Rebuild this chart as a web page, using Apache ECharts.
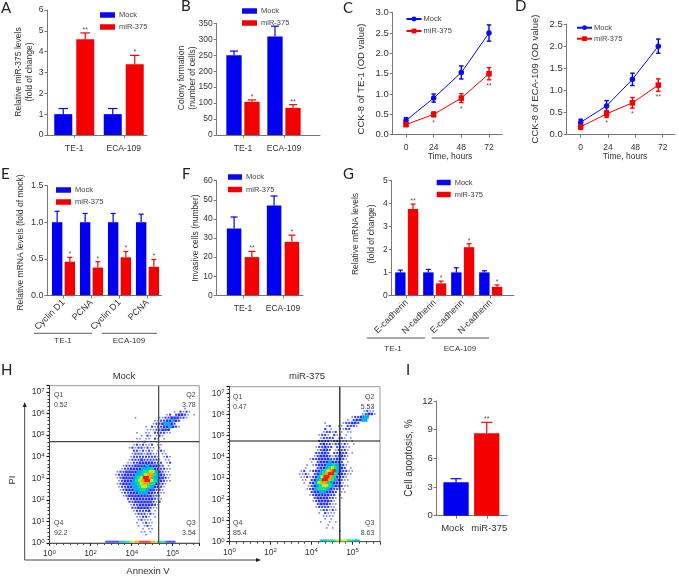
<!DOCTYPE html>
<html><head><meta charset="utf-8">
<style>html,body{margin:0;padding:0;background:#fff}#c{width:678px;height:576px}</style>
<script src="https://cdn.jsdelivr.net/npm/echarts@6/dist/echarts.min.js"></script>
</head><body><div id="c"></div>
<script>
// ---------- DATA ----------
const twoLines = ['TE-1','ECA-109'];
const aMock=[1,1], aMockTop=[1.27,1.27], aMir=[4.6,3.4], aMirTop=[4.9,3.82], aStars=['**','*'];
const bMock=[250,309], bMockTop=[263,341], bMir=[104,85], bMirTop=[110,95], bStars=['*','**'];
const cHours=['0','24','48','72'];
const cMock=[0.35,0.9,1.53,2.5], cMockErr=[0.07,0.1,0.16,0.2];
const cMir=[0.25,0.5,0.9,1.5], cMirErr=[0.05,0.06,0.11,0.15], cStars=['','*','*','**'];
const dMock=[0.28,0.65,1.25,2.0], dMockErr=[0.07,0.12,0.14,0.16];
const dMir=[0.18,0.47,0.72,1.12], dMirErr=[0.06,0.08,0.12,0.14], dStars=['','*','*','**'];
const eCats=['Cyclin D1','PCNA','Cyclin D1','PCNA'];
const eMock=[1,1,1,1], eMockTop=[1.15,1.12,1.12,1.11], eMir=[0.46,0.38,0.52,0.39], eMirTop=[0.52,0.46,0.6,0.49], eStars=['*','*','*','*'];
const fMock=[35,47], fMockTop=[41,52], fMir=[20,28], fMirTop=[23,31.5], fStars=['**','*'];
const gCats=['E-cadherin','N-cadherin','E-cadherin','N-cadherin'];
const gMock=[1,1,1,1], gMockTop=[1.1,1.13,1.2,1.07], gMir=[3.77,0.52,2.1,0.37], gMirTop=[3.98,0.62,2.25,0.45], gStars=['**','*','*','*'];
const iCats=['Mock','miR-375'], iValues=[3.5,8.62], iTops=[3.87,9.77], iStars=['','**'];
const flowXExp=[0,2,4,5], flowYExp=[0,1,2,3,4,5,6,7];
// Flow cytometry density: one row per 3px, level 0-8 per 3px column
const mockDensity=[
"",
"........................1",
".....................1.2121",
"..................12.23321.1",
"........1.......1122333221",
"..............112233432",
"..............12234432",
"...........1.2122334321",
"............11122333",
"........1..11.222211",
"..........1.21.121",
"........11.11.21.1",
".......1.1.2.1.1",
".......1212112.11",
"......121221211.1",
".......2212121.121",
".......122212211.11",
"......1222222221.121",
"......12223222221.11",
".....112233333222.12",
"....12223333433322.1",
"...12233334445332211",
"..122333344556643211",
".1223333445677543211",
"..123333456887543321",
"..123334567886543211",
"..12333445677553221",
"..1223344566543321",
"...123334455433221",
"...122333444332211",
"....1233333333221",
".....223333333211",
"......22333333212",
"......1223333321",
".......223333211",
".......122223.1",
"........1222121",
"........11221.1",
".........12111",
"........1.1211",
".........1.121",
"..........1.11",
"..........11.1",
"...........1"];
const mirDensity=[
"",
"..........................1",
"........................1211",
".......................12331",
"....................122344",
"..................1.23344",
"...........1.....122332",
"...........12..11.2221",
"...........2.1..1122",
"..........12212.1.11",
".........1221.211.1",
".........12222.121.1",
".........2222122111.1",
".........2322122121.1",
"........122322.22211",
"........12332.12221",
"........22332.22322.1",
".......123332122321",
"......1223333223321",
"......1.233343332.1",
".....1.123334454321",
"....1...2334565432.1",
"...12.123345678432211",
"..1121.2345788533211",
"...1121234688753221",
"...11.2345887543211",
"....1.234677543321",
".....12345665433211",
".....1234555432211",
"......233443332.11",
"......123333322.1",
".......23333221.1",
".......12333321",
"........2333211",
"........1222211",
".........122121",
".........1.2111",
"..........1111",
"...........1.1",
".........1..1.1",
"............1",
"...........1.1.",
"................1"];
const mockStrip="3333334445566778888877655543333";
const mirStrip="..44445555566666665555444";
const mockGate={x:2.66, y:4.69}, mirGate={x:2.69, y:4.75};
const mockQuad=['Q1','0.52','Q2','3.78','Q4','92.2','Q3','3.54'];
const mirQuad=['Q1','0.47','Q2','5.53','Q4','85.4','Q3','8.63'];

// ---------- STYLE / LAYOUT ----------
const FONT='"Liberation Sans",Arial,sans-serif', LETTER='Lato,"Open Sans",sans-serif';
const BLUE='#0000f0', RED='#f40000', TXT='#333', AXIS='#777';
const grid=[],xAxis=[],yAxis=[],series=[],legend=[],graphic=[];
const hide={show:false};

function addGrid(l,r,t,b,extra){grid.push(Object.assign({left:l,width:r-l,top:t,height:b-t,containLabel:false},extra||{}));return grid.length-1;}
function frame(p){
  const g=addGrid(p.x0,p.x1,p.top,p.bot);
  xAxis.push({gridIndex:g,type:'value',min:0,max:1,axisLine:{show:true,onZero:false,lineStyle:{color:AXIS,width:1}},axisTick:hide,axisLabel:hide,splitLine:hide});
  yAxis.push({gridIndex:g,type:'value',min:p.min,max:p.max,interval:p.interval,
    axisLine:{show:true,lineStyle:{color:AXIS,width:1}},axisTick:{show:true,length:3,lineStyle:{color:AXIS}},splitLine:hide,
    axisLabel:{fontFamily:FONT,fontSize:p.yFont||8.5,color:TXT,margin:4,formatter:p.dec?(v=>v.toFixed(p.dec)):undefined}});
}
function dataGrid(p,cats,l,r,boundary,showX){
  const g=addGrid(l,r,p.top,p.bot);
  xAxis.push({gridIndex:g,type:'category',data:cats,boundaryGap:boundary,axisLine:hide,
    axisTick:showX?{show:true,length:3,alignWithLabel:true,lineStyle:{color:AXIS}}:hide,
    axisLabel:showX?Object.assign({show:true,interval:0,hideOverlap:false,fontFamily:FONT,fontSize:p.xFont||8.5,color:TXT,margin:p.xMargin||8,rotate:p.rotate||0},p.rotate?{verticalAlign:'middle'}:{}):hide,splitLine:hide});
  yAxis.push({gridIndex:g,type:'value',min:p.min,max:p.max,interval:p.interval,show:false});
  return g;
}
function errSeries(g,hi,lo,color,off,capW,stars,below,lw){
  series.push({type:'custom',coordinateSystem:'cartesian2d',xAxisIndex:g,yAxisIndex:g,silent:true,z:3,clip:false,
    data:hi.map((h,i)=>[i,h,lo[i]]),
    renderItem:(params,api)=>{
      const i=api.value(0),a=api.coord([i,api.value(1)]),b=api.coord([i,api.value(2)]);
      const x=a[0]+off,s={stroke:Array.isArray(color)?color[i]:color,lineWidth:lw||1.2};
      const kids=[{type:'line',shape:{x1:x,y1:a[1],x2:x,y2:b[1]},style:s},
        {type:'line',shape:{x1:x-capW/2,y1:a[1],x2:x+capW/2,y2:a[1]},style:s}];
      if(below) kids.push({type:'line',shape:{x1:x-capW/2,y1:b[1],x2:x+capW/2,y2:b[1]},style:s});
      if(stars&&stars[i]) kids.push({type:'text',style:{x:x,y:below?b[1]+6:a[1]-3,text:stars[i],fill:'#555',fontSize:7,fontFamily:FONT,align:'center',verticalAlign:'middle'}});
      return {type:'group',children:kids};
    }});
}
function barPanel(p){
  frame(p);
  const g=dataGrid(p,p.cats,p.d0,p.d1,true,true);
  const mk=(name,vals,c)=>({type:'bar',name,data:vals,xAxisIndex:g,yAxisIndex:g,barWidth:p.barW,barGap:(p.gap/p.barW*100)+'%',itemStyle:{color:c},silent:true});
  series.push(mk('Mock',p.mock,BLUE),mk('miR-375',p.mir,RED));
  const off=(p.barW+p.gap)/2;
  errSeries(g,p.mockTop,p.mock,BLUE,-off,p.capM||p.barW*0.55,null,false,p.lw);
  errSeries(g,p.mirTop,p.mir,RED,off,p.capM||p.barW*0.55,p.stars,false,p.lw);
}
function linePanel(p){
  frame(p);
  const tg=dataGrid(p,p.cats,p.t0,p.t1,false,true);
  const g=dataGrid(p,p.cats,p.d0,p.d1,false,false);
  const mk=(name,vals,c,sym)=>({type:'line',name,data:vals,xAxisIndex:g,yAxisIndex:g,symbol:sym,symbolSize:5.5,showSymbol:true,lineStyle:{color:c,width:1},itemStyle:{color:c},silent:true,z:4});
  series.unshift(mk('Mock',p.mock,'#0a0af0','circle'),mk('miR-375',p.mir,'#f00000','rect'));
  const hi=(v,e)=>v.map((x,i)=>+(x+e[i]).toFixed(3)), lo=(v,e)=>v.map((x,i)=>+(x-e[i]).toFixed(3));
  errSeries(g,hi(p.mock,p.mockErr),lo(p.mock,p.mockErr),BLUE,0,4.5,null,true,1.4);
  errSeries(g,hi(p.mir,p.mirErr),lo(p.mir,p.mirErr),RED,0,4.5,p.stars,true,1.4);
}
function barLegend(l,t,gap,w){
  legend.push({left:l,top:t,orient:'vertical',padding:0,itemWidth:w||15,itemHeight:5.5,itemGap:gap,selectedMode:false,
    data:[{name:'Mock',icon:'rect'},{name:'miR-375',icon:'rect'}],textStyle:{fontFamily:FONT,fontSize:7.5,color:'#444',padding:[0,0,0,-1]}});
}
function lineLegend(l,t,gap){
  legend.push({left:l,top:t,orient:'vertical',padding:0,itemWidth:15,itemHeight:6,itemGap:gap,selectedMode:false,
    data:['Mock','miR-375'],textStyle:{fontFamily:FONT,fontSize:7.5,color:'#444',padding:[0,0,0,-3]}});
}
function txt(x,y,text,o){o=o||{};graphic.push({type:'text',x:x,y:y,rotation:o.rot?Math.PI/2:0,silent:true,style:{x:0,y:0,text,fontFamily:o.family||FONT,fontSize:o.size||8.5,fill:o.color||TXT,align:o.align||'center',verticalAlign:'middle',lineHeight:o.lh}});}
function seg(x1,y1,x2,y2,c,w){graphic.push({type:'line',silent:true,shape:{x1,y1,x2,y2},style:{stroke:c||'#333',lineWidth:w||1}});}

// ---------- PANELS ----------
barPanel({x0:47.5,x1:147,top:10,bot:135,min:0,max:6,interval:1,cats:twoLines,mock:aMock,mockTop:aMockTop,mir:aMir,mirTop:aMirTop,stars:aStars,d0:49.5,d1:148.5,barW:18,gap:4,capM:9.5,xMargin:9});
barLegend(100,11,4);
barPanel({x0:216.7,x1:320,top:23.3,bot:135,min:0,max:350,interval:50,cats:twoLines,mock:bMock,mockTop:bMockTop,mir:bMir,mirTop:bMirTop,stars:bStars,d0:222.5,d1:304.5,barW:15.3,gap:2.7,capM:8,xMargin:9});
barLegend(242,7,4);
linePanel({x0:392.7,x1:502,top:12.7,bot:134.7,min:0,max:3,interval:0.5,dec:1,yFont:9.5,cats:cHours,mock:cMock,mockErr:cMockErr,mir:cMir,mirErr:cMirErr,stars:cStars,t0:406,t1:489,d0:406,d1:489,xMargin:8});
lineLegend(405.5,15,4);
linePanel({x0:566.7,x1:675,top:24,bot:134.7,min:0,max:2.5,interval:0.5,dec:1,yFont:9.5,cats:cHours,mock:dMock,mockErr:dMockErr,mir:dMir,mirErr:dMirErr,stars:dStars,t0:580.7,t1:662.7,d0:580.7,d1:658.3,xMargin:8});
lineLegend(576,23.7,3);
barPanel({x0:47.5,x1:161.5,top:185.7,bot:295.3,min:0,max:1.5,interval:0.5,dec:1,yFont:9,cats:eCats,mock:eMock,mockTop:eMockTop,mir:eMir,mirTop:eMirTop,stars:eStars,d0:49.5,d1:161.5,barW:10.4,gap:2.3,capM:5,rotate:45,xMargin:6,xFont:9});
barLegend(56,186,4);
barPanel({x0:216.7,x1:303,top:180.7,bot:295.3,min:0,max:60,interval:10,cats:twoLines,mock:fMock,mockTop:fMockTop,mir:fMir,mirTop:fMirTop,stars:fStars,d0:223,d1:303,barW:14.5,gap:3.3,capM:7,xMargin:9});
barLegend(228,173,4.5,14);
barPanel({x0:391.7,x1:514,top:180.7,bot:295.3,min:0,max:5,interval:1,cats:gCats,mock:gMock,mockTop:gMockTop,mir:gMir,mirTop:gMirTop,stars:gStars,d0:392.7,d1:504.7,barW:10.4,gap:2.3,capM:5,rotate:45,xMargin:6,xFont:9});
barLegend(436.7,178.5,4,14);

// I
frame({x0:436.7,x1:507.3,top:401,bot:515.7,min:0,max:12,interval:3,yFont:9.5});
(function(){
  const p={top:401,bot:515.7,min:0,max:12,interval:3,xFont:9.5,xMargin:8};
  const pads=[[0,7,0,0],[0,0,0,5]];
  const g=dataGrid(p,iCats.map((c,i)=>({value:c,textStyle:{padding:pads[i]}})),440.7,502.1,true,true);
  const cols=[BLUE,RED];
  series.push({type:'bar',name:'Cell apoptosis',data:iValues.map((v,i)=>({value:v,itemStyle:{color:cols[i]}})),xAxisIndex:g,yAxisIndex:g,barWidth:25.3,silent:true});
  errSeries(g,iTops,iValues,cols,0,11,iStars,false,1.2);
})();

// Flow plots
function flowPanel(o){
  const g=addGrid(o.x0,o.x1,o.top,o.bot,{show:true,borderColor:'#999',borderWidth:1,backgroundColor:'#fff'});
  const rich={s:{fontSize:6,verticalAlign:'top',padding:[0,0,3,0],fontFamily:FONT,color:TXT}};
  xAxis.push({gridIndex:g,type:'value',min:0,max:o.xMax,interval:1,axisLine:{show:true,onZero:false,lineStyle:{color:'#555'}},
    axisTick:{show:true,length:3,lineStyle:{color:'#222',width:1}},minorTick:{show:true,splitNumber:6,length:2,lineStyle:{color:'#444'}},splitLine:hide,minorSplitLine:hide,
    axisLabel:{fontFamily:FONT,fontSize:8.5,color:TXT,margin:6,formatter:v=>Number.isInteger(v)&&v<flowXExp.length?'10{s|'+flowXExp[v]+'}':'',rich}});
  yAxis.push({gridIndex:g,type:'value',min:0,max:o.yMax,interval:1,axisLine:{show:true,onZero:false,lineStyle:{color:'#444'}},
    axisTick:{show:true,length:3,lineStyle:{color:'#111',width:1.2}},minorTick:{show:true,splitNumber:6,length:2,lineStyle:{color:'#333'}},splitLine:hide,minorSplitLine:hide,
    axisLabel:{fontFamily:FONT,fontSize:8.5,color:TXT,margin:5,formatter:v=>Number.isInteger(v)&&v<flowYExp.length?'10{s|'+flowYExp[v]+'}':'',rich}});
  const pts=[];
  o.rows.forEach((r,j)=>{for(let i=0;i<r.length;i++){const c=r[i];if(c!=='.')pts.push([o.ox+(i+(j%2)*0.5)*o.dx,o.oy-j*o.dy,+c]);}});
  const cols=['','#7480f0','#3844ec','#2630f0','#00aef0','#0ee08c','#b8f020','#ffa000','#f01c10'];
  const sizes=[0,1.6,2.1,2.6,3.5,3.6,3.6,3.6,3.6];
  series.push({type:'scatter',data:pts,xAxisIndex:g,yAxisIndex:g,symbol:'rect',silent:true,z:2,large:false,
    symbolSize:v=>sizes[v[2]],itemStyle:{color:p=>cols[p.value[2]],opacity:1},animation:false});
  const strip=[];
  for(let i=0;i<o.strip.length;i++){const c=o.strip[i];if(c!=='.')strip.push([o.sx+i*o.sdx,0.06,+c]);}
  series.push({type:'scatter',data:strip,xAxisIndex:g,yAxisIndex:g,symbol:'rect',silent:true,z:2,clip:false,
    symbolSize:()=>[2.6,2],itemStyle:{color:p=>cols[p.value[2]]}});
  const gate=(d)=>({type:'line',data:d,xAxisIndex:g,yAxisIndex:g,symbol:'none',silent:true,z:5,lineStyle:{color:o.gateColor,width:1.2}});
  series.push(gate([[o.gate.x,0],[o.gate.x,o.yMax]]),gate([[0,o.gate.y],[o.xMax,o.gate.y]]));
}
flowPanel({x0:49.5,x1:199.3,top:385.7,bot:543,xMax:3.65,yMax:7.28,rows:mockDensity,ox:1.51,oy:6.356,dx:0.0732,dy:0.139,strip:mockStrip,sx:1.39,sdx:0.055,gate:mockGate,gateColor:'#444'});
flowPanel({x0:229.5,x1:380,top:386.7,bot:541.7,xMax:3.67,yMax:7.31,rows:mirDensity,ox:1.529,oy:6.45,dx:0.0732,dy:0.1415,strip:mirStrip,sx:2.15,sdx:0.0415,gate:mirGate,gateColor:'#111'});
function quad(q,xl,xr,y1,y2,y3,y4){
  const o={size:7,color:'#444'};
  txt(xl,y1,q[0],{...o,align:'left'});txt(xl,y2,q[1],{...o,align:'left'});
  txt(xr,y1,q[2],{...o,align:'right'});txt(xr,y2,q[3],{...o,align:'right'});
  txt(xl,y3,q[4],{...o,align:'left'});txt(xl,y4,q[5],{...o,align:'left'});
  txt(xr,y3,q[6],{...o,align:'right'});txt(xr,y4,q[7],{...o,align:'right'});
}
quad(mockQuad,54,195.7,395,405,523,532.7);
quad(mirQuad,233,374.3,396.7,406.7,523,532.7);

// Text
[['A',1,8],['B',181,6],['C',343,8],['D',515,6],['E',1,174],['F',182,174],['G',343,174],['H',1,370],['I',406,370]].forEach(a=>txt(a[1],a[2],a[0],{family:LETTER,size:15,color:'#222',align:'left'}));
const R={rot:true};
txt(24.5,72,'Relative miR-375 levels\n(fold of change)',{...R,lh:11});
txt(187,78,'Colony formation\n(number of cells)',{...R,lh:10.5,size:8.5});
txt(361.7,79,'CCK-8 of TE-1 (OD value)',{...R,size:9.5});
txt(535.7,79,'CCK-8 of ECA-109 (OD value)',{...R,size:9.5});
txt(450,157,'Time, hours',{size:8.5});
txt(625,157,'Time, hours',{size:8.5});
txt(20.7,242.5,'Relative mRNA levels (fold of mock)',{...R,size:8.5});
txt(195.7,238,'Invasive cells (number)',{...R,size:8.5});
txt(363.7,234,'Relative mRNA levels\n(fold of change)',{...R,lh:16});
txt(409,458,'Cell apoptosis, %',{...R,size:10});
txt(124,376.7,'Mock',{size:9.5}); txt(307,376.7,'miR-375',{size:9.5});
txt(12,480,'PI',{...R,size:9.5}); txt(148,571.7,'Annexin V',{size:9.5});
seg(34,333.3,92,333.3,'#333',0.8); seg(101.7,333.3,157,333.3,'#333',0.8);
txt(63,341,'TE-1',{size:8}); txt(129,341,'ECA-109',{size:8});
seg(366.7,338,425,338,'#555',1); seg(431.7,338,489,338,'#555',1);
txt(393,348.5,'TE-1',{size:8}); txt(460,348.5,'ECA-109',{size:8});
seg(24.7,560,24.7,406,'#444',1); seg(24.7,560,257,560,'#444',1);
graphic.push({type:'polygon',silent:true,shape:{points:[[22.7,407],[26.7,407],[24.7,402]]},style:{fill:'#222'}});
graphic.push({type:'polygon',silent:true,shape:{points:[[256,558],[256,562],[261,560]]},style:{fill:'#222'}});

const chart=echarts.init(document.getElementById('c'),null,{renderer:'canvas'});
chart.setOption({animation:false,backgroundColor:'#fff',textStyle:{fontFamily:FONT},grid,xAxis,yAxis,series,legend,graphic,tooltip:{show:false}});
</script></body></html>
